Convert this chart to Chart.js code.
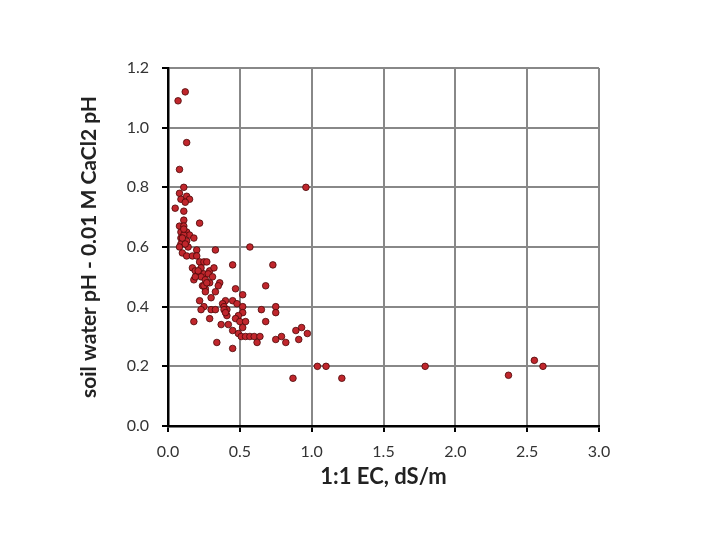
<!DOCTYPE html>
<html>
<head>
<meta charset="utf-8">
<script src="https://cdn.jsdelivr.net/npm/chart.js@4/dist/chart.umd.min.js"></script>
<style>
html,body{margin:0;padding:0;background:#fff;}
#wrap{width:720px;height:540px;}
</style>
</head>
<body>
<div id="wrap"><canvas id="c" width="720" height="540"></canvas></div>
<script>
const ecValues = [0.12,0.07,0.13,0.08,0.11,0.96,0.08,0.09,0.13,0.15,0.12,0.05,0.11,0.11,0.22,0.08,0.11,0.09,0.13,0.15,0.11,0.09,0.18,0.13,0.09,0.14,0.08,0.57,0.20,0.33,0.10,0.13,0.17,0.20,0.22,0.25,0.27,0.45,0.73,0.17,0.19,0.23,0.29,0.32,0.21,0.25,0.28,0.31,0.18,0.23,0.26,0.29,0.36,0.35,0.24,0.26,0.68,0.47,0.33,0.52,0.30,0.22,0.40,0.45,0.38,0.48,0.39,0.25,0.52,0.75,0.23,0.30,0.33,0.41,0.65,0.75,0.52,0.41,0.49,0.29,0.47,0.18,0.50,0.54,0.68,0.37,0.42,0.52,0.45,0.89,0.93,0.49,0.97,0.51,0.54,0.57,0.60,0.64,0.75,0.79,0.91,0.62,0.82,0.34,0.45,1.04,1.10,1.79,0.87,1.21,2.37,2.55,2.61,0.19,0.21,0.25,0.27,0.26,0.39,0.40,0.10,0.12,0.11];
const phDiff = [1.12,1.09,0.95,0.86,0.80,0.80,0.78,0.76,0.77,0.76,0.75,0.73,0.72,0.69,0.68,0.67,0.67,0.65,0.65,0.64,0.64,0.63,0.63,0.62,0.61,0.60,0.60,0.60,0.59,0.59,0.58,0.57,0.57,0.57,0.55,0.55,0.55,0.54,0.54,0.53,0.52,0.53,0.52,0.53,0.51,0.51,0.51,0.50,0.49,0.50,0.49,0.48,0.48,0.47,0.47,0.46,0.47,0.46,0.45,0.44,0.43,0.42,0.42,0.42,0.41,0.41,0.40,0.40,0.40,0.40,0.39,0.39,0.39,0.39,0.39,0.38,0.38,0.37,0.37,0.36,0.36,0.35,0.35,0.35,0.35,0.34,0.34,0.33,0.32,0.32,0.33,0.31,0.31,0.30,0.30,0.30,0.30,0.30,0.29,0.30,0.29,0.28,0.28,0.28,0.26,0.20,0.20,0.20,0.16,0.16,0.17,0.22,0.20,0.50,0.52,0.47,0.48,0.45,0.39,0.38,0.63,0.61,0.66];
const xTicks = [0,0.5,1.0,1.5,2.0,2.5,3.0];
const yTicks = [0,0.2,0.4,0.6,0.8,1.0,1.2];
const xTitle = '1:1 EC, dS/m';
const yTitle = 'soil water pH - 0.01 M CaCl2 pH';

const points = ecValues.map((x,i)=>({x:x,y:phDiff[i]}));
const FONT = 'Lato, "Open Sans", sans-serif';

new Chart(document.getElementById('c'), {
  type: 'scatter',
  data: { datasets: [{
    data: points,
    backgroundColor: '#C0262C',
    borderColor: '#4a0808',
    borderWidth: 0.8,
    pointRadius: 3.3,
    pointHoverRadius: 3.3
  }]},
  options: {
    responsive: false,
    animation: false,
    events: [],
    layout: { padding: { left: 73, right: 121, top: 68, bottom: 46 } },
    plugins: { legend: { display: false }, tooltip: { enabled: false } },
    scales: {
      x: {
        type: 'linear', min: 0, max: 3.0,
        afterBuildTicks: s => { s.ticks = xTicks.map(v=>({value:v})); },
        afterFit: s => { s.height = 68; },
        ticks: { color: '#333', font: { family: FONT, size: 16 }, padding: 10,
                 callback: v => v.toFixed(1) },
        grid: { color: '#888888', lineWidth: 2, tickColor: '#000', tickLength: 6, tickWidth: 2 },
        border: { color: '#000', width: 2.5 },
        title: { display: true, text: xTitle, color: '#222',
                 font: { family: FONT, size: 22, weight: 'bold' }, padding: { top: 4, bottom: 4 } }
      },
      y: {
        type: 'linear', min: 0, max: 1.2,
        afterBuildTicks: s => { s.ticks = yTicks.map(v=>({value:v})); },
        afterFit: s => { s.width = 95; },
        ticks: { color: '#333', font: { family: FONT, size: 16 }, padding: 13,
                 callback: v => v.toFixed(1) },
        grid: { color: '#888888', lineWidth: 2, tickColor: '#000', tickLength: 6, tickWidth: 2 },
        border: { color: '#000', width: 2.5 },
        title: { display: true, text: yTitle, color: '#222',
                 font: { family: FONT, size: 21, weight: 'bold' }, padding: { top: 4, bottom: 4 } }
      }
    }
  }
});
</script>
</body>
</html>
